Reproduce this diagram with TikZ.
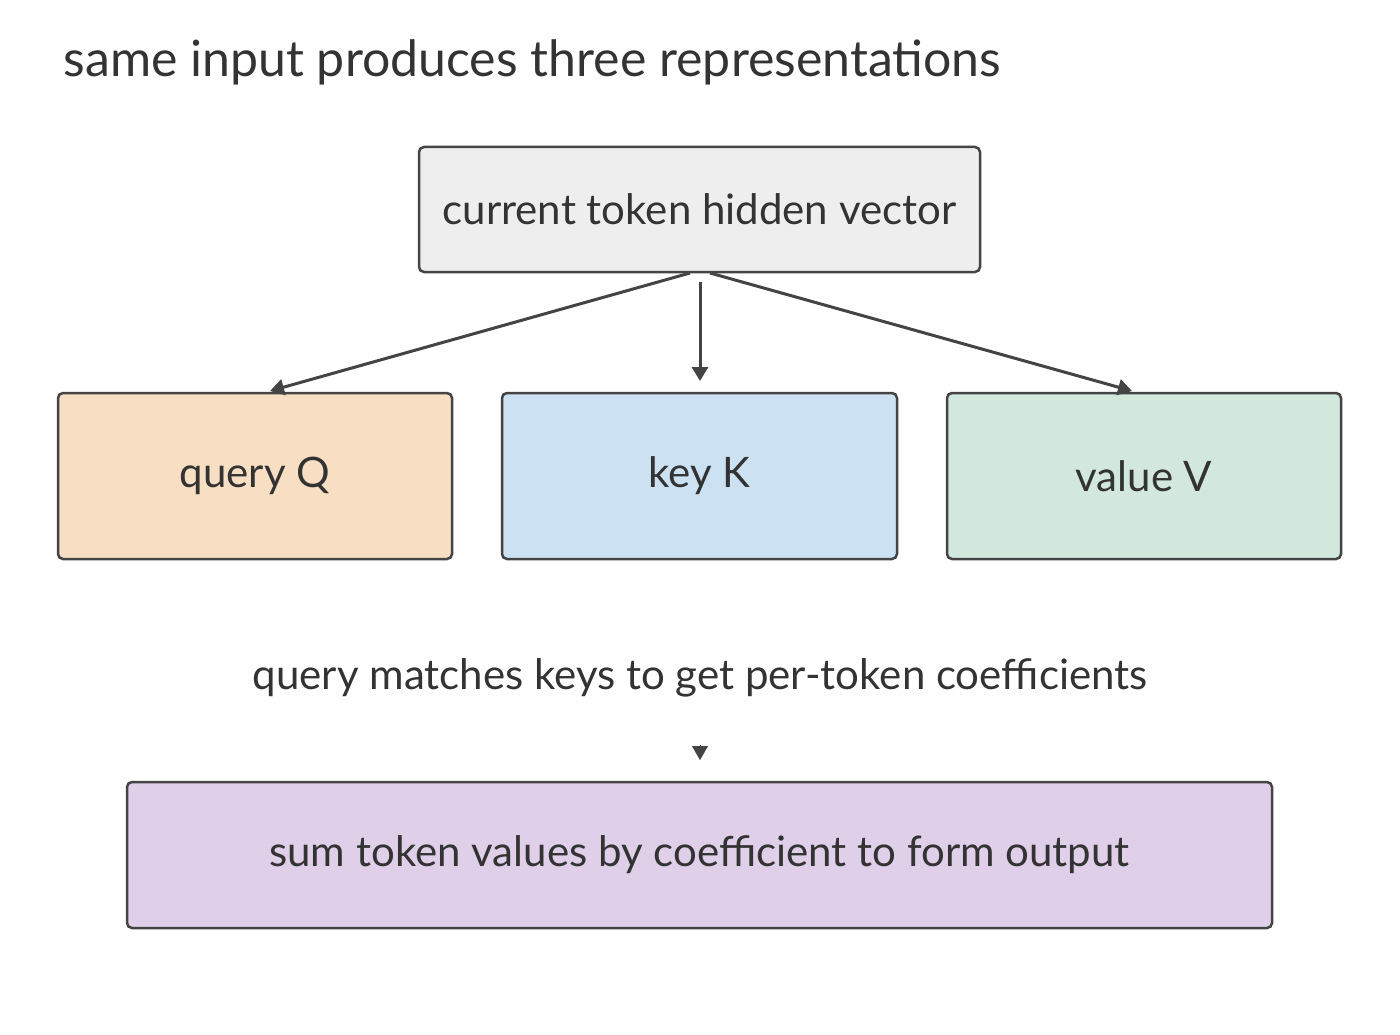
\documentclass[tikz,border=0pt]{standalone}
\usepackage{fontspec}
\setmainfont{Lato}
\usetikzlibrary{arrows.meta}
\definecolor{ln}{HTML}{444444}
\definecolor{tx}{HTML}{333333}
\definecolor{cH}{HTML}{EEEEEE}
\definecolor{cQ}{HTML}{F8DEC2}
\definecolor{cK}{HTML}{CCE2F2}
\definecolor{cV}{HTML}{D2E8DC}
\definecolor{cO}{HTML}{DFCFE8}
\tikzset{
 box/.style={draw=ln,line width=2.5pt,rounded corners=5pt,inner sep=0pt,text=tx,font=\fontsize{42}{50}\selectfont},
 arr/.style={draw=ln,line width=3pt,-{Triangle[length=14pt,width=16pt]}}
}
\begin{document}
\begin{tikzpicture}[x=1pt,y=-1pt]
\useasboundingbox (0,0) rectangle (1400,1035);
\node[anchor=west,text=tx,font=\fontsize{50}{60}\selectfont] (title) at (60,62) {same input produces three representations};
\node[box,fill=cH,minimum width=561pt,minimum height=125pt] (h) at (699.5,209.5) {current token hidden vector};
\node[box,fill=cQ,minimum width=394pt,minimum height=166pt] (q) at (255,476) {query Q};
\node[box,fill=cK,minimum width=395pt,minimum height=166pt] (k) at (699.5,476) {key K};
\node[box,fill=cV,minimum width=394pt,minimum height=166pt] (v) at (1144,476) {value V};
\node[text=tx,font=\fontsize{42}{50}\selectfont] (m) at (700,678) {query matches keys to get per-token coefficients};
\node[box,fill=cO,minimum width=1145pt,minimum height=146pt] (o) at (699.5,855) {sum token values by coefficient to form output};
\coordinate (h1) at (690,273);
\coordinate (h2) at (700,282);
\coordinate (h3) at (710,273);
\draw[arr] (h1) -- (270,391);
\draw[arr] (h2) -- (700,381);
\draw[arr] (h3) -- (1132,391);
\coordinate (m1) at (700,745);
\draw[arr,line width=0.1pt] (m1) -- (700,760);
\end{tikzpicture}
\end{document}
